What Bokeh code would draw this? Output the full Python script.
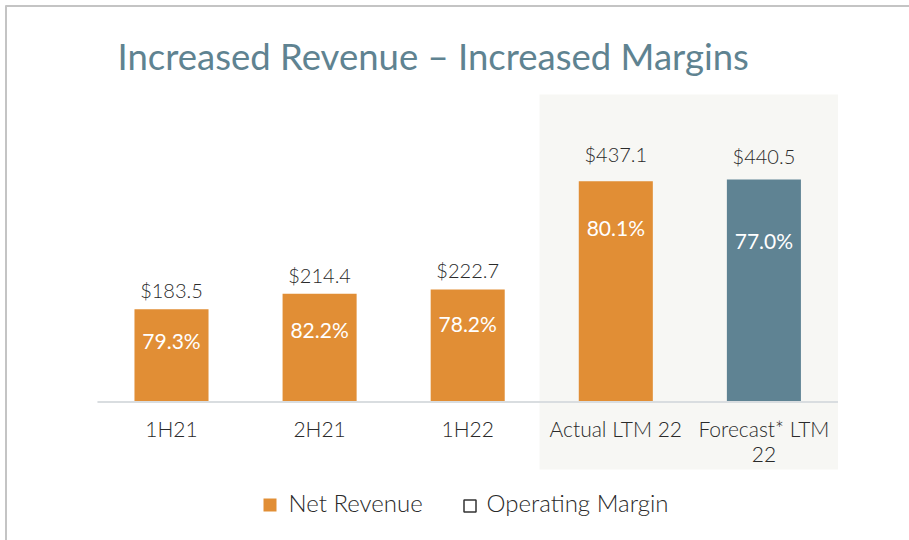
from bokeh.plotting import figure
from bokeh.models import Range1d, ColumnDataSource
from bokeh.core.properties import value
from bokeh.embed import file_html
from bokeh.resources import INLINE

# ---- data ----
categories = ["1H21", "2H21", "1H22", "Actual LTM 22", "Forecast* LTM 22"]
tick_labels = ["1H21", "2H21", "1H22", "Actual LTM 22", "Forecast* LTM\n22"]
net_revenue = [183.5, 214.4, 222.7, 437.1, 440.5]
value_labels = ["$183.5", "$214.4", "$222.7", "$437.1", "$440.5"]
margin_labels = ["79.3%", "82.2%", "78.2%", "80.1%", "77.0%"]
series_names = ["Net Revenue", "Operating Margin"]
title_text = "Increased Revenue \u2013 Increased Margins"

# ---- styles ----
ORANGE = "#E18E35"
BLUE = "#5F8393"
bar_colors = [ORANGE, ORANGE, ORANGE, ORANGE, BLUE]
value_gap_px = [19, 19, 20, 27, 24]      # bar top -> centre of $ label
margin_drop_px = [31, 36, 34, 46, 61]    # bar top -> centre of % label
FONT = "Lato"
LIGHT = "Lato Light"

W, H = 909, 540
X0, DX = 171.0, 148.1     # screen x of first bar centre, bar spacing
Y0, KY = 401.5, 0.505     # screen y of zero line, px per $M
def dx(sx):
    return (sx - X0) / DX
def dy(sy):
    return (Y0 - sy) / KY

p = figure(width=W, height=H, output_backend="svg", toolbar_location=None,
           x_range=Range1d(dx(0), dx(W)), y_range=Range1d(dy(H), dy(0)),
           min_border=0)
p.axis.visible = False
p.grid.visible = False
p.outline_line_color = None
p.background_fill_color = "white"
p.border_fill_color = "white"

idx = list(range(len(categories)))

# highlight panel behind the LTM columns
hl = categories.index("Actual LTM 22")
p.quad(left=[hl - 0.5 - 0.015], right=[len(categories) - 0.5], bottom=[dy(469)], top=[dy(94)],
       fill_color="#F7F7F4", line_color=None)

# frame lines (top and left)
p.segment(x0=[dx(5), dx(5.5)], x1=[dx(W), dx(5.5)], y0=[dy(5.5), dy(5)], y1=[dy(5.5), dy(H)],
          line_color="#C4C4C4", line_width=2)

src = ColumnDataSource(dict(
    x=idx, top=net_revenue, color=bar_colors,
    vy=[v + g / KY for v, g in zip(net_revenue, value_gap_px)],
    my=[v - g / KY for v, g in zip(net_revenue, margin_drop_px)],
    vlab=value_labels, mlab=margin_labels, tick=tick_labels,
))

p.vbar(x="x", top="top", bottom=0, width=0.5, fill_color="color", line_color=None, source=src)

# zero line
p.segment(x0=[-0.5], x1=[len(categories) - 0.5], y0=[0], y1=[0], line_color="#D9DDE0", line_width=2)

# value labels
p.text(x="x", y="vy", text="vlab", source=src, text_align="center", text_baseline="middle",
       text_font=value(LIGHT), text_font_size="20px", text_color="#2A2A2A")
# margin labels
p.text(x="x", y="my", text="mlab", source=src, text_align="center", text_baseline="middle",
       text_font=value(FONT), text_font_size="21px", text_color="white")
# category labels
p.text(x="x", y=dy(415), text="tick", source=src, text_align="center", text_baseline="top",
       text_font=value(LIGHT), text_font_size="21px", text_color="#2A2A2A", text_line_height=1.0)

# title
p.text(x=[dx(117)], y=[dy(55)], text=[title_text], text_align="left", text_baseline="middle",
       text_font=value(FONT), text_font_size="36.5px", text_color="#5F8391")

# legend
p.rect(x=[dx(269.5)], y=[dy(504.5)], width=13, height=13, width_units="screen", height_units="screen",
       fill_color=ORANGE, line_color=None)
p.rect(x=[dx(469.5)], y=[dy(505.5)], width=12, height=12, width_units="screen", height_units="screen",
       fill_color="white", line_color="#333333", line_width=1.5)
p.text(x=[dx(288), dx(486)], y=[dy(502), dy(502)], text=series_names, text_align="left",
       text_baseline="middle", text_font=value(LIGHT), text_font_size="24px", text_color="#2A2A2A")

open("out.html", "w").write(file_html(p, INLINE))
